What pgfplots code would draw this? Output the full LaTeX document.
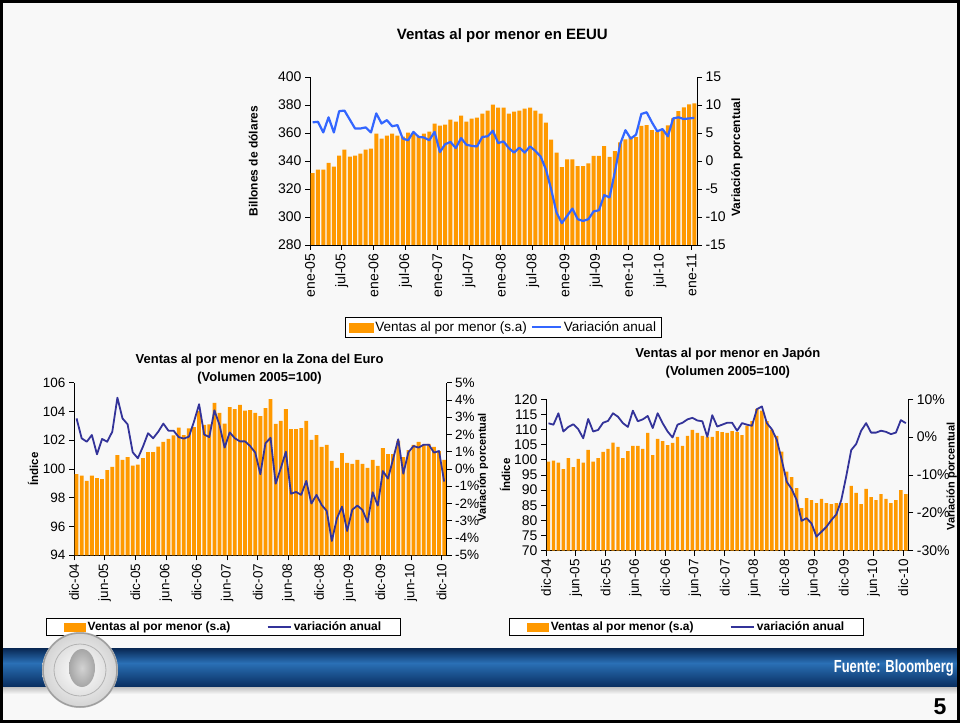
\documentclass[border=0pt]{standalone}
\usepackage{pgfplots}
\usepackage{pgfplotstable}
\usepackage{graphicx}
\pgfplotsset{compat=1.18}
\usepackage{fontspec}
\setmainfont{Liberation Sans}

\definecolor{barorange}{RGB}{255,153,0}
\definecolor{usblue}{RGB}{51,102,255}
\definecolor{navyline}{RGB}{51,51,153}
\definecolor{bandtop}{RGB}{8,38,82}
\definecolor{bandmid}{RGB}{42,112,182}
\definecolor{bandbot}{RGB}{10,48,98}
\definecolor{slidebg}{RGB}{248,248,248}

\newcommand{\fs}[1]{\fontsize{#1}{#1}\selectfont}

% EEUU: ventas (v, billones) y variacion anual (l, %), ene-05 .. ene-11
\pgfplotstableread[row sep=\\]{
v l \\
331.4 6.9 \\ 333.8 7.0 \\ 333.8 5.1 \\ 338.6 7.8 \\ 336.0 5.1 \\ 343.8 8.9 \\
348.1 9.0 \\ 343.1 7.4 \\ 343.8 5.8 \\ 345.2 5.8 \\ 348.1 6.0 \\ 348.8 5.1 \\
359.5 8.5 \\ 356.0 6.7 \\ 358.1 7.3 \\ 359.5 6.2 \\ 358.1 6.4 \\ 357.4 4.0 \\
360.2 3.7 \\ 359.5 5.2 \\ 357.4 4.3 \\ 359.5 4.2 \\ 361.0 3.7 \\ 366.7 5.2 \\
365.2 1.6 \\ 366.0 3.0 \\ 369.5 3.4 \\ 368.1 2.3 \\ 372.4 4.1 \\ 368.1 2.9 \\
370.2 2.7 \\ 371.0 2.6 \\ 373.8 4.3 \\ 376.0 4.4 \\ 380.2 5.4 \\ 378.1 3.2 \\
378.1 3.5 \\ 373.8 2.3 \\ 375.2 1.5 \\ 376.0 2.4 \\ 377.4 1.5 \\ 378.1 2.6 \\
376.0 1.8 \\ 373.8 0.8 \\ 367.4 -1.5 \\ 355.2 -5.1 \\ 346.0 -9.2 \\ 335.7 -11.1 \\
341.2 -9.8 \\ 341.2 -8.5 \\ 336.4 -10.4 \\ 336.4 -10.7 \\ 338.3 -10.4 \\ 343.6 -9.0 \\
343.6 -8.8 \\ 350.7 -6.1 \\ 342.9 -6.5 \\ 347.1 -2.0 \\ 353.3 3.0 \\ 355.5 5.5 \\
357.4 4.0 \\ 357.1 4.7 \\ 365.0 8.4 \\ 365.7 8.7 \\ 362.1 6.9 \\ 361.0 5.3 \\
361.9 5.7 \\ 365.5 4.4 \\ 370.5 7.6 \\ 375.7 7.8 \\ 378.3 7.5 \\ 380.5 7.6 \\
381.2 7.7 \\
}\usdata

% Zona del Euro: indice (v) y variacion anual (l, %), dic-04 .. dic-10
\pgfplotstableread[row sep=\\]{
v l \\
99.65 2.93 \\ 99.54 1.78 \\ 99.17 1.58 \\ 99.54 1.97 \\ 99.37 0.85 \\ 99.30 1.74 \\
99.93 1.58 \\ 100.14 2.16 \\ 100.97 4.13 \\ 100.63 2.93 \\ 100.83 2.59 \\ 100.23 0.97 \\
100.30 0.62 \\ 100.76 1.29 \\ 101.18 2.07 \\ 101.18 1.78 \\ 101.55 2.16 \\ 101.88 2.63 \\
102.10 2.22 \\ 102.34 2.22 \\ 102.87 1.85 \\ 102.36 1.76 \\ 102.83 1.87 \\ 102.92 2.74 \\
104.03 3.75 \\ 103.06 2.00 \\ 103.10 1.85 \\ 104.60 3.40 \\ 103.90 2.55 \\ 103.15 1.24 \\
104.30 2.12 \\ 104.17 1.78 \\ 104.45 1.60 \\ 104.05 1.60 \\ 104.10 1.33 \\ 103.90 0.95 \\
103.68 -0.30 \\ 104.24 1.49 \\ 104.86 1.81 \\ 103.13 -0.85 \\ 103.34 0.04 \\ 104.17 1.00 \\
102.78 -1.43 \\ 102.78 -1.33 \\ 102.85 -1.50 \\ 103.34 -0.69 \\ 102.02 -2.00 \\ 102.36 -1.50 \\
101.53 -2.08 \\ 101.67 -2.43 \\ 100.56 -4.17 \\ 100.07 -2.86 \\ 101.11 -2.18 \\ 100.42 -3.59 \\
100.35 -2.36 \\ 100.63 -2.12 \\ 100.35 -2.37 \\ 100.07 -3.09 \\ 100.63 -1.35 \\ 100.21 -2.12 \\
101.46 -0.12 \\ 101.04 -0.56 \\ 101.04 0.58 \\ 101.95 1.72 \\ 100.83 -0.27 \\ 101.32 0.97 \\
101.67 1.33 \\ 101.88 1.24 \\ 101.67 1.41 \\ 101.74 1.41 \\ 101.53 0.95 \\ 101.25 1.04 \\
100.63 -0.73 \\
}\eudata

% Japon: indice (v) y variacion anual (l, %), dic-04 .. dic-10
\pgfplotstableread[row sep=\\]{
v l \\
99.41 3.66 \\ 99.74 3.3 \\ 99.07 6.3 \\ 96.98 1.5 \\ 100.6 2.7 \\ 97.6 3.4 \\
100.3 2.1 \\ 99.07 -0.3 \\ 103.26 4.8 \\ 99.41 1.5 \\ 100.6 1.9 \\ 102.6 3.8 \\
103.6 4.3 \\ 105.7 6.3 \\ 104.25 5.4 \\ 100.6 3.7 \\ 102.9 2.7 \\ 104.6 7.0 \\
104.6 4.2 \\ 103.6 4.7 \\ 108.9 5.6 \\ 101.6 2.4 \\ 106.9 6.3 \\ 106.2 3.7 \\
104.9 1.5 \\ 105.6 -0.1 \\ 107.6 3.3 \\ 104.6 3.8 \\ 107.9 4.7 \\ 109.9 5.1 \\
108.9 4.4 \\ 107.9 4.2 \\ 107.6 0.1 \\ 107.6 5.8 \\ 109.5 2.8 \\ 109.2 3.3 \\
108.9 3.8 \\ 109.5 3.8 \\ 109.2 1.7 \\ 108.2 3.7 \\ 111.3 3.3 \\ 112.8 3.0 \\
116.8 7.4 \\ 116.3 8.1 \\ 112.8 3.7 \\ 110.0 2.1 \\ 107.9 -0.7 \\ 102.7 -6.0 \\
96.1 -11.8 \\ 94.3 -13.7 \\ 90.7 -16.6 \\ 84.1 -22.1 \\ 87.4 -21.4 \\ 86.7 -22.8 \\
85.75 -26.3 \\ 87.1 -25.0 \\ 85.75 -23.7 \\ 85.4 -21.9 \\ 85.75 -20.4 \\ 85.75 -16.6 \\
85.75 -10.3 \\ 91.4 -3.4 \\ 89.1 -1.8 \\ 85.4 1.7 \\ 90.4 3.7 \\ 87.7 1.2 \\
86.7 1.2 \\ 88.7 1.7 \\ 87.1 1.4 \\ 85.75 0.8 \\ 86.7 1.2 \\ 90.0 4.5 \\
88.7 3.7 \\
}\jpdata

\pgfplotsset{
  base/.style={scale only axis, xmin=0, xmax=73, tick align=outside,
    major tick length=5pt, tick style={black,line width=0.8pt},
    axis line style={black,line width=0.9pt},
    ticklabel style={font=\fs{#1}},
    /pgf/number format/assume math mode=true, clip=true},
  lowleg/.style={legend columns=2, legend cell align=left,
    legend style={anchor=center, draw=black, line width=1pt, fill=white,
      inner xsep=17pt, inner ysep=1.5pt, font=\bfseries\fs{12},
      /tikz/every even column/.append style={column sep=34pt}}},
}

\begin{document}
\begin{tikzpicture}
\useasboundingbox (0pt,0pt) rectangle (960pt,723pt);
\fill[slidebg] (0pt,0pt) rectangle (960pt,723pt);

% ---------------- EEUU ----------------
\begin{axis}[base=14, at={(310pt,478pt)}, anchor=south west, width=387pt, height=168pt,
  axis x line*=bottom, axis y line*=left,
  ymin=280, ymax=400, ytick={280,300,...,400},
  xtick={0,6,...,72},
  xticklabels={ene-05,jul-05,ene-06,jul-06,ene-07,jul-07,ene-08,jul-08,ene-09,jul-09,ene-10,jul-10,ene-11},
  x tick label style={rotate=90,anchor=east},
  ybar, bar width=4pt,
  title={Ventas al por menor en EEUU},
  every axis title/.style={at={(axis description cs:0.497,1.245)},anchor=center,font=\bfseries\fs{15}},
  ylabel={Billones de dólares},
  every axis y label/.style={at={(axis description cs:-0.1465,0.5)},rotate=90,anchor=center,font=\bfseries\fs{12}},
]
\addplot[fill=barorange, draw=none] table[x expr=\coordindex+0.5, y=v]{\usdata};
\end{axis}
\begin{axis}[base=14, at={(310pt,478pt)}, anchor=south west, width=387pt, height=168pt,
  axis x line=none, axis y line*=right,
  ymin=-15, ymax=15, ytick={-15,-10,...,15}, yticklabels={-15,-10,-5,0,5,10,15},
  ylabel={Variación porcentual},
  every axis y label/.style={at={(axis description cs:1.1034,0.52)},rotate=90,anchor=center,font=\bfseries\fs{12}},
  legend columns=2, legend cell align=left,
  legend style={at={(0.4995,-0.491)}, anchor=center, draw=black, line width=0.8pt, fill=white,
    inner xsep=3pt, inner ysep=2pt, font=\fs{13.5},
    /tikz/every even column/.append style={column sep=2pt}},
]
\addlegendimage{legend image code/.code={\fill[barorange] (0pt,-4.5pt) rectangle (24pt,4.5pt);}}
\addlegendentry{Ventas al por menor (s.a)}
\addlegendimage{legend image code/.code={\draw[usblue,line width=2pt] (0pt,0pt) -- (29pt,0pt);}}
\addlegendentry{Variación anual}
\addplot[usblue, line width=2.2pt, line join=round, forget plot] table[x expr=\coordindex+0.5, y=l]{\usdata};
\end{axis}

% ---------------- Zona del Euro ----------------
\begin{axis}[base=13.5, at={(74pt,167.7pt)}, anchor=south west, width=372.7pt, height=172.6pt,
  axis x line*=bottom, axis y line*=left,
  ymin=94, ymax=106, ytick={94,96,...,106},
  xtick={0,6,...,72},
  xticklabels={dic-04,jun-05,dic-05,jun-06,dic-06,jun-07,dic-07,jun-08,dic-08,jun-09,dic-09,jun-10,dic-10},
  x tick label style={rotate=90,anchor=east},
  ybar, bar width=3.8pt,
  title={Ventas al por menor en la Zona del Euro\\(Volumen 2005=100)},
  every axis title/.style={at={(axis description cs:0.498,1.079)},anchor=center,align=center,font=\bfseries\fontsize{13}{17.5}\selectfont},
  ylabel={Índice},
  every axis y label/.style={at={(axis description cs:-0.11,0.5)},rotate=90,anchor=center,font=\bfseries\fs{11.5}},
]
\addplot[fill=barorange, draw=none] table[x expr=\coordindex+0.5, y=v]{\eudata};
\end{axis}
\begin{axis}[base=13.5, at={(74pt,167.7pt)}, anchor=south west, width=372.7pt, height=172.6pt,
  axis x line=none, axis y line*=right,
  ymin=-5, ymax=5, ytick={-5,-4,...,5},
  yticklabels={-5\%,-4\%,-3\%,-2\%,-1\%,0\%,1\%,2\%,3\%,4\%,5\%},
  ylabel={Variación porcentual},
  every axis y label/.style={at={(axis description cs:1.0974,0.51)},rotate=90,anchor=center,font=\bfseries\fs{11}},
  lowleg, legend style={at={(0.401,-0.4154)}},
]
\addlegendimage{legend image code/.code={\fill[barorange] (0pt,-4pt) rectangle (21pt,4pt);}}
\addlegendentry{Ventas al por menor (s.a)}
\addlegendimage{legend image code/.code={\draw[navyline,line width=2.4pt] (0pt,0pt) -- (23pt,0pt);}}
\addlegendentry{variación anual}
\addplot[navyline, line width=1.8pt, line join=round, forget plot] table[x expr=\coordindex+0.5, y=l]{\eudata};
\end{axis}

% ---------------- Japon ----------------
\begin{axis}[base=14, at={(546pt,172.3pt)}, anchor=south west, width=362.3pt, height=151.4pt,
  axis x line*=bottom, axis y line*=left,
  ymin=70, ymax=120, ytick={70,75,...,120},
  xtick={0,6,...,72},
  xticklabels={dic-04,jun-05,dic-05,jun-06,dic-06,jun-07,dic-07,jun-08,dic-08,jun-09,dic-09,jun-10,dic-10},
  x tick label style={rotate=90,anchor=east,font=\fs{13.5}},
  ybar, bar width=3.4pt,
  title={Ventas al por menor en Japón\\(Volumen 2005=100)},
  every axis title/.style={at={(axis description cs:0.502,1.24)},anchor=center,align=center,font=\bfseries\fontsize{13}{17.5}\selectfont},
  ylabel={Índice},
  every axis y label/.style={at={(axis description cs:-0.113,0.5)},rotate=90,anchor=center,font=\bfseries\fs{11.5}},
]
\addplot[fill=barorange, draw=none] table[x expr=\coordindex+0.5, y=v]{\jpdata};
\end{axis}
\begin{axis}[base=14, at={(546pt,172.3pt)}, anchor=south west, width=362.3pt, height=151.4pt,
  axis x line=none, axis y line*=right,
  ymin=-30, ymax=10, ytick={-30,-20,...,10},
  yticklabels={-30\%,-20\%,-10\%,0\%,10\%},
  ylabel={Variación porcentual},
  every axis y label/.style={at={(axis description cs:1.12,0.49)},rotate=90,anchor=center,font=\bfseries\fs{11}},
  lowleg, legend style={at={(0.388,-0.504)}},
]
\addlegendimage{legend image code/.code={\fill[barorange] (0pt,-4pt) rectangle (21pt,4pt);}}
\addlegendentry{Ventas al por menor (s.a)}
\addlegendimage{legend image code/.code={\draw[navyline,line width=2.4pt] (0pt,0pt) -- (23pt,0pt);}}
\addlegendentry{variación anual}
\addplot[navyline, line width=1.8pt, line join=round, forget plot] table[x expr=\coordindex+0.5, y=l]{\jpdata};
\end{axis}

% ---------------- pie de la diapositiva ----------------
\shade[top color=gray!55, bottom color=slidebg] (0pt,29pt) rectangle (960pt,37pt);
\shade[top color=bandmid, bottom color=bandbot] (0pt,37pt) rectangle (960pt,60pt);
\shade[top color=bandtop, bottom color=bandmid] (0pt,60pt) rectangle (960pt,75pt);
\node[anchor=east, text=white, font=\bfseries\fs{17.5}, inner sep=0pt] at (954pt,55pt) {\scalebox{0.74}[1]{Fuente: Bloomberg}};
\shade[inner color=white, outer color=gray!35] (80pt,53pt) circle (38pt);
\draw[gray!75, line width=1.5pt] (80pt,53pt) circle (37pt);
\draw[gray!60, line width=0.8pt] (80pt,53pt) circle (26pt);
\shade[inner color=gray!35, outer color=gray!70] (82pt,55pt) ellipse (13pt and 19pt);
\node[font=\bfseries\fs{23}, inner sep=0pt] at (940pt,16pt) {5};
\draw[black, line width=3pt] (1.5pt,1.5pt) rectangle (958.5pt,721.5pt);
\end{tikzpicture}
\end{document}
